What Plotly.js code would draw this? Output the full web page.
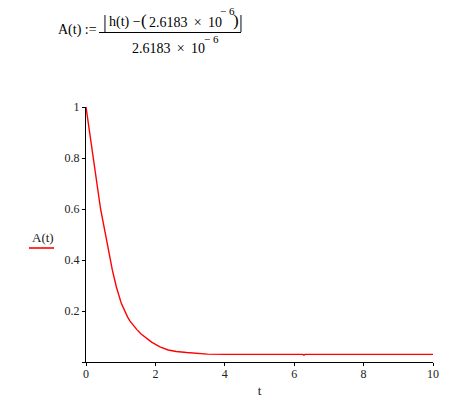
<!DOCTYPE html>
<html>
<head>
<meta charset="utf-8">
<script src="https://cdn.plot.ly/plotly-3.0.1.min.js"></script>
<style>html,body{margin:0;padding:0;background:#fff;}#chart{width:455px;height:398px;}</style>
</head>
<body>
<div id="chart"></div>
<script>
// ---- data ----
const tValues = [0, 0.21, 0.42, 0.53, 0.66, 0.76, 0.875, 1.02, 1.20, 1.27, 1.46, 1.58, 1.89, 2.13, 2.37, 2.6, 2.9, 3.2, 3.5, 4.0, 6.25, 6.28, 6.31, 10];
const aValues = [1.0, 0.80, 0.60, 0.523, 0.425, 0.36, 0.294, 0.229, 0.176, 0.160, 0.128, 0.111, 0.078, 0.059, 0.047, 0.041, 0.037, 0.034, 0.031, 0.030, 0.030, 0.027, 0.030, 0.030];
const xTickVals = [0, 2, 4, 6, 8, 10];
const xTickText = ['0', '2', '4', '6', '8', '10'];
const yTickVals = [0, 0.2, 0.4, 0.6, 0.8, 1];
const yTickText = ['', '0.2', '0.4', '0.6', '0.8', '1'];
const seriesName = 'A(t)';
const xTitle = 't';
// formula pieces: A(t) := |h(t) − (2.6183 × 10^−6)| / (2.6183 × 10^−6)
const formulaLeft = 'A(t) :=';
const numBar = '|';
const numFunc = 'h(t) \u2212';
const parenOpen = '(';
const parenClose = ')';
const constMantissa = '2.6183 \u2009\u00d7\u2009 10';
const constExponent = '\u2212 6';

// ---- layout geometry ----
const W = 455, H = 398;
const M = {l: 86, r: 22, t: 107, b: 36};
const PW = W - M.l - M.r, PH = H - M.t - M.b;
const px = x => (x - M.l) / PW;          // pixel -> paper x
const py = y => (M.t + PH - y) / PH;     // pixel -> paper y
const FONT = 'Liberation Serif, Times New Roman, serif';

function txt(text, x, y, size, anchor) {
  return {text: text, xref: 'paper', yref: 'paper', x: px(x), y: py(y),
          xanchor: anchor || 'left', yanchor: 'middle', showarrow: false,
          borderpad: 0, font: {family: FONT, size: size, color: '#000'}};
}

const trace = {
  x: tValues, y: aValues, type: 'scatter', mode: 'lines',
  name: seriesName, line: {color: '#ff0000', width: 1.4}, showlegend: false,
  hoverinfo: 'skip'
};

const axBase = {
  showgrid: false, zeroline: false, showline: true, linecolor: '#000', linewidth: 1,
  tickcolor: '#000', tickwidth: 1, fixedrange: true,
  tickfont: {family: FONT, size: 12, color: '#222'}
};

const layout = {
  width: W, height: H,
  margin: M,
  paper_bgcolor: '#fff', plot_bgcolor: '#fff',
  font: {family: FONT, color: '#000'},
  xaxis: Object.assign({}, axBase, {
    range: [0, 10], tickmode: 'array', tickvals: xTickVals, ticktext: xTickText,
    ticks: 'outside', ticklen: 3, ticklabelstandoff: -2,
    title: {text: xTitle, font: {family: FONT, size: 13, color: '#222'}, standoff: 12}
  }),
  yaxis: Object.assign({}, axBase, {
    range: [0, 1], tickmode: 'array', tickvals: yTickVals, ticktext: yTickText,
    ticks: 'outside', ticklen: 3
  }),
  xaxis2: Object.assign({}, axBase, {
    overlaying: 'x', anchor: 'y', side: 'bottom', range: [0, 10],
    tickmode: 'array', tickvals: xTickVals, ticks: 'inside', ticklen: 5, showticklabels: false
  }),
  yaxis2: Object.assign({}, axBase, {
    overlaying: 'y', anchor: 'x', side: 'left', range: [0, 1],
    tickmode: 'array', tickvals: yTickVals, ticks: 'inside', ticklen: 4, showticklabels: false
  }),
  annotations: [
    txt(formulaLeft, 77, 30, 14, 'center'),
    // numerator
    txt(numBar, 105, 21, 19, 'center'),
    txt(numFunc, 108, 22, 14),
    txt(parenOpen, 143.5, 20.5, 17, 'center'),
    txt(constMantissa, 148, 22, 14),
    txt(constExponent, 219, 11, 11),
    txt(parenClose, 235.5, 20.5, 17, 'center'),
    txt(numBar, 240.5, 21, 19, 'center'),
    // denominator
    txt(constMantissa, 131, 49, 14),
    txt(constExponent, 203, 38.5, 11),
    // series label
    Object.assign(txt(seriesName, 42.5, 237, 13, 'center'), {font: {family: FONT, size: 13, color: '#222'}})
  ],
  shapes: [
    {type: 'line', xref: 'paper', yref: 'paper', x0: px(99), x1: px(241), y0: py(32.5), y1: py(32.5), line: {color: '#000', width: 1}},
    {type: 'line', xref: 'paper', yref: 'paper', x0: px(29), x1: px(54), y0: py(248), y1: py(248), line: {color: '#ff0000', width: 1.6}}
  ]
};

Plotly.newPlot('chart', [trace], layout, {staticPlot: true, displayModeBar: false});
</script>
</body>
</html>
